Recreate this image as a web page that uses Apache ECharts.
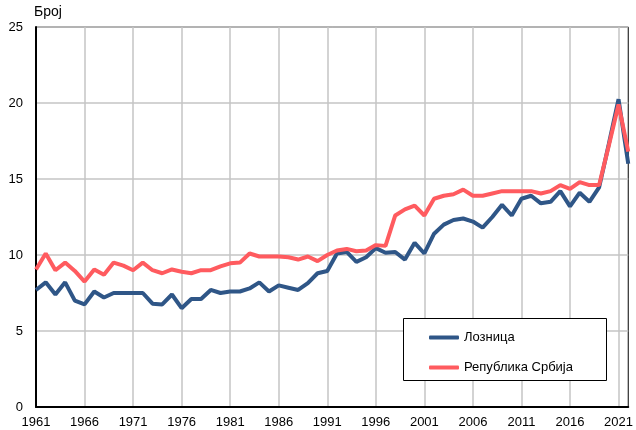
<!DOCTYPE html>
<html><head><meta charset="utf-8">
<script src="https://cdn.jsdelivr.net/npm/echarts@6/dist/echarts.min.js"></script>
<style>html,body{margin:0;padding:0;background:#fff}#c{width:636px;height:430px}</style>
</head><body><div id="c"></div>
<script>
var years = [];
for (var y = 1961; y <= 2022; y++) years.push(String(y));
var loznica = [7.7,8.2,7.4,8.2,7.0,6.75,7.6,7.2,7.5,7.5,7.5,7.5,6.8,6.75,7.4,6.5,7.1,7.1,7.7,7.5,
7.6,7.6,7.8,8.2,7.6,8.0,7.85,7.7,8.15,8.8,8.95,10.1,10.2,9.55,9.85,10.45,10.15,10.2,9.7,10.8,
10.1,11.4,12.0,12.3,12.4,12.2,11.8,12.5,13.3,12.6,13.7,13.9,13.4,13.5,14.2,13.2,14.1,13.5,14.45,17.3,
20.25,16.0];
var srbija = [9.05,10.1,9.0,9.5,8.95,8.25,9.05,8.7,9.5,9.3,9.0,9.5,9.0,8.8,9.05,8.9,8.8,9.0,9.0,9.25,
9.45,9.5,10.1,9.9,9.9,9.9,9.85,9.7,9.9,9.6,10.0,10.3,10.4,10.25,10.3,10.65,10.6,12.6,13.0,13.25,
12.6,13.7,13.9,14.0,14.3,13.9,13.9,14.05,14.2,14.2,14.2,14.2,14.05,14.2,14.6,14.35,14.8,14.6,14.6,17.2,
19.9,16.8];
var seriesNames = ['Лозница', 'Република Србија'];
var yTicks = [0, 5, 10, 15, 20, 25];

var font = 'Liberation Sans, Arial, sans-serif';
var chart = echarts.init(document.getElementById('c'), null, {renderer: 'canvas'});
chart.setOption({
  animation: false,
  textStyle: {fontFamily: font},
  grid: {left: 36, right: 5, top: 27, bottom: 23, show: true, borderColor: '#000', borderWidth: 1},
  xAxis: {
    type: 'category', data: years, boundaryGap: false,
    axisLine: {lineStyle: {color: '#000', width: 2}},
    axisTick: {show: false},
    axisLabel: {interval: 4, color: '#000', fontSize: 13, margin: 9, fontFamily: font},
    splitLine: {show: true, interval: 4, lineStyle: {color: '#c4c4c4', width: 1.5}}
  },
  yAxis: {
    type: 'value', min: yTicks[0], max: yTicks[yTicks.length - 1], interval: 5,
    name: 'Број', nameLocation: 'end', nameGap: 8,
    nameTextStyle: {align: 'left', color: '#000', fontSize: 14, fontFamily: font, padding: [0, 0, 0, -2]},
    axisLine: {show: true, lineStyle: {color: '#000', width: 2}},
    axisTick: {show: false},
    axisLabel: {color: '#000', fontSize: 13, margin: 13, fontFamily: font},
    splitLine: {show: true, lineStyle: {color: '#c4c4c4', width: 1.5}}
  },
  graphic: [{
    type: 'rect', left: 403, top: 318, z: 50,
    shape: {width: 203, height: 62},
    style: {fill: '#fff', stroke: '#000', lineWidth: 1}
  }],
  legend: {
    orient: 'vertical', left: 424, top: 326, z: 60,
    itemWidth: 30, itemHeight: 4, itemGap: 17, icon: 'roundRect',
    textStyle: {color: '#000', fontSize: 13, fontFamily: font},
    data: seriesNames
  },
  series: [
    {name: seriesNames[0], type: 'line', data: loznica, showSymbol: false, symbol: 'none',
     lineStyle: {color: '#2f5687', width: 4}, itemStyle: {color: '#2f5687'}},
    {name: seriesNames[1], type: 'line', data: srbija, showSymbol: false, symbol: 'none',
     lineStyle: {color: '#ff5b5f', width: 4}, itemStyle: {color: '#ff5b5f'}}
  ]
});
</script></body></html>
